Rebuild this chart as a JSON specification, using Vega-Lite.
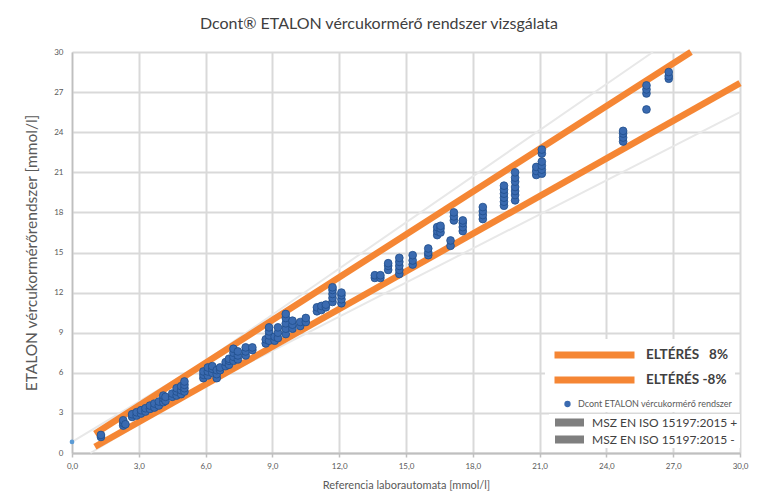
{
  "$schema": "https://vega.github.io/schema/vega-lite/v6.json",
  "width": 668,
  "height": 401,
  "autosize": {"type": "none"},
  "padding": {"left": 72, "top": 52, "right": 17, "bottom": 43},
  "background": "white",
  "title": {
    "text": "Dcont® ETALON vércukormérő rendszer vizsgálata",
    "font": "Lato",
    "fontSize": 16,
    "fontWeight": "normal",
    "color": "#404040",
    "anchor": "middle",
    "dx": -27,
    "offset": -6,
    "baseline": "alphabetic"
  },
  "datasets": {
    "iso": [
      {"series": "plus", "label": "MSZ EN ISO 15197:2015 +", "x": 0, "y": 0.83},
      {"series": "plus", "label": "MSZ EN ISO 15197:2015 +", "x": 5.55, "y": 6.38},
      {"series": "plus", "label": "MSZ EN ISO 15197:2015 +", "x": 26.09, "y": 30},
      {"series": "minus", "label": "MSZ EN ISO 15197:2015 -", "x": 0.83, "y": 0},
      {"series": "minus", "label": "MSZ EN ISO 15197:2015 -", "x": 5.55, "y": 4.72},
      {"series": "minus", "label": "MSZ EN ISO 15197:2015 -", "x": 30, "y": 25.5}
    ],
    "band": [
      {"series": "ELTÉRÉS\u00a0\u00a0\u00a08%", "x": 1.03, "y": 1.44},
      {"series": "ELTÉRÉS\u00a0\u00a0\u00a08%", "x": 27.8, "y": 30},
      {"series": "ELTÉRÉS -8%", "x": 1.03, "y": 0.47},
      {"series": "ELTÉRÉS -8%", "x": 30, "y": 27.67}
    ],
    "mk": [{"x": 0, "y": 0.83}],
    "pts": [
      {"x": 1.3, "y": 1.2}, {"x": 1.3, "y": 1.35},
      {"x": 2.3, "y": 2.05}, {"x": 2.3, "y": 2.25}, {"x": 2.3, "y": 2.45}, {"x": 2.4, "y": 2.15},
      {"x": 2.7, "y": 2.7}, {"x": 2.7, "y": 2.9}, {"x": 2.9, "y": 2.8}, {"x": 2.9, "y": 3.05},
      {"x": 3.1, "y": 2.95}, {"x": 3.1, "y": 3.2}, {"x": 3.3, "y": 3.1}, {"x": 3.3, "y": 3.35},
      {"x": 3.5, "y": 3.3}, {"x": 3.5, "y": 3.55}, {"x": 3.7, "y": 3.4}, {"x": 3.7, "y": 3.7},
      {"x": 3.9, "y": 3.55}, {"x": 3.9, "y": 3.85},
      {"x": 4.1, "y": 3.8}, {"x": 4.1, "y": 4.1}, {"x": 4.1, "y": 4.3}, {"x": 4.2, "y": 3.9}, {"x": 4.2, "y": 4.2},
      {"x": 4.5, "y": 4.2}, {"x": 4.5, "y": 4.45}, {"x": 4.7, "y": 4.3}, {"x": 4.7, "y": 4.6}, {"x": 4.7, "y": 4.85},
      {"x": 4.9, "y": 4.4}, {"x": 4.9, "y": 4.7}, {"x": 4.9, "y": 5.0},
      {"x": 5.05, "y": 4.6}, {"x": 5.05, "y": 4.85}, {"x": 5.05, "y": 5.1}, {"x": 5.05, "y": 5.35},
      {"x": 5.9, "y": 5.6}, {"x": 5.9, "y": 5.85}, {"x": 5.9, "y": 6.1},
      {"x": 6.1, "y": 5.8}, {"x": 6.1, "y": 6.1}, {"x": 6.1, "y": 6.4},
      {"x": 6.3, "y": 6.0}, {"x": 6.3, "y": 6.3}, {"x": 6.3, "y": 6.5},
      {"x": 6.5, "y": 5.6}, {"x": 6.5, "y": 5.9}, {"x": 6.5, "y": 6.2},
      {"x": 6.65, "y": 6.2}, {"x": 6.65, "y": 6.4},
      {"x": 6.9, "y": 6.5}, {"x": 6.9, "y": 6.8},
      {"x": 7.05, "y": 6.6}, {"x": 7.05, "y": 6.9}, {"x": 7.05, "y": 7.05},
      {"x": 7.25, "y": 6.9}, {"x": 7.25, "y": 7.2}, {"x": 7.25, "y": 7.5}, {"x": 7.25, "y": 7.8},
      {"x": 7.45, "y": 7.0}, {"x": 7.45, "y": 7.3}, {"x": 7.45, "y": 7.6},
      {"x": 7.8, "y": 7.3}, {"x": 7.8, "y": 7.6}, {"x": 7.8, "y": 7.9},
      {"x": 8.1, "y": 7.7}, {"x": 8.1, "y": 7.9},
      {"x": 8.7, "y": 8.2}, {"x": 8.7, "y": 8.5},
      {"x": 8.85, "y": 8.4}, {"x": 8.85, "y": 8.8}, {"x": 8.85, "y": 9.1}, {"x": 8.85, "y": 9.4},
      {"x": 9.1, "y": 8.4}, {"x": 9.1, "y": 8.7},
      {"x": 9.25, "y": 8.6}, {"x": 9.25, "y": 9.0}, {"x": 9.25, "y": 9.4},
      {"x": 9.6, "y": 8.9}, {"x": 9.6, "y": 9.3}, {"x": 9.6, "y": 9.7}, {"x": 9.6, "y": 10.1}, {"x": 9.6, "y": 10.4},
      {"x": 9.9, "y": 9.3}, {"x": 9.9, "y": 9.6}, {"x": 9.9, "y": 9.9},
      {"x": 10.25, "y": 9.5}, {"x": 10.25, "y": 9.8},
      {"x": 10.5, "y": 9.8}, {"x": 10.5, "y": 10.1},
      {"x": 11.0, "y": 10.6}, {"x": 11.0, "y": 10.9},
      {"x": 11.2, "y": 10.7}, {"x": 11.2, "y": 11.0},
      {"x": 11.4, "y": 10.9}, {"x": 11.4, "y": 11.1},
      {"x": 11.7, "y": 11.3}, {"x": 11.7, "y": 11.6}, {"x": 11.7, "y": 11.9}, {"x": 11.7, "y": 12.2}, {"x": 11.7, "y": 12.4},
      {"x": 12.1, "y": 11.2}, {"x": 12.1, "y": 11.5}, {"x": 12.1, "y": 11.8}, {"x": 12.1, "y": 12.0},
      {"x": 13.6, "y": 13.1}, {"x": 13.6, "y": 13.3},
      {"x": 13.85, "y": 13.1}, {"x": 13.85, "y": 13.3},
      {"x": 14.2, "y": 13.7}, {"x": 14.2, "y": 14.0}, {"x": 14.2, "y": 14.2},
      {"x": 14.7, "y": 13.4}, {"x": 14.7, "y": 13.7}, {"x": 14.7, "y": 14.0}, {"x": 14.7, "y": 14.3}, {"x": 14.7, "y": 14.6},
      {"x": 15.3, "y": 14.1}, {"x": 15.3, "y": 14.4}, {"x": 15.3, "y": 14.8},
      {"x": 16.0, "y": 14.8}, {"x": 16.0, "y": 15.0}, {"x": 16.0, "y": 15.3},
      {"x": 16.4, "y": 16.3}, {"x": 16.4, "y": 16.6}, {"x": 16.4, "y": 16.9},
      {"x": 16.55, "y": 16.5}, {"x": 16.55, "y": 16.8}, {"x": 16.55, "y": 17.0},
      {"x": 17.0, "y": 15.5}, {"x": 17.0, "y": 15.9},
      {"x": 17.15, "y": 17.4}, {"x": 17.15, "y": 17.7}, {"x": 17.15, "y": 18.0},
      {"x": 17.55, "y": 16.6}, {"x": 17.55, "y": 16.9}, {"x": 17.55, "y": 17.2}, {"x": 17.55, "y": 17.4},
      {"x": 18.45, "y": 17.5}, {"x": 18.45, "y": 17.8}, {"x": 18.45, "y": 18.1}, {"x": 18.45, "y": 18.4},
      {"x": 19.4, "y": 18.5}, {"x": 19.4, "y": 18.8}, {"x": 19.4, "y": 19.1}, {"x": 19.4, "y": 19.4}, {"x": 19.4, "y": 19.7}, {"x": 19.4, "y": 20.0},
      {"x": 19.9, "y": 18.9}, {"x": 19.9, "y": 19.3}, {"x": 19.9, "y": 19.6}, {"x": 19.9, "y": 19.9}, {"x": 19.9, "y": 20.3}, {"x": 19.9, "y": 20.6}, {"x": 19.9, "y": 21.0},
      {"x": 20.85, "y": 20.8}, {"x": 20.85, "y": 21.1}, {"x": 20.85, "y": 21.4},
      {"x": 21.1, "y": 20.9}, {"x": 21.1, "y": 21.2}, {"x": 21.1, "y": 21.5}, {"x": 21.1, "y": 21.8}, {"x": 21.1, "y": 22.4}, {"x": 21.1, "y": 22.7},
      {"x": 24.75, "y": 23.3}, {"x": 24.75, "y": 23.6}, {"x": 24.75, "y": 23.9}, {"x": 24.75, "y": 24.1},
      {"x": 25.8, "y": 25.7}, {"x": 25.8, "y": 26.9}, {"x": 25.8, "y": 27.2}, {"x": 25.8, "y": 27.5},
      {"x": 26.8, "y": 28.0}, {"x": 26.8, "y": 28.2}, {"x": 26.8, "y": 28.5}
    ]
  },
  "layer": [
    {
      "data": {"name": "iso"},
      "mark": {"type": "line", "strokeWidth": 2},
      "encoding": {
        "x": {
          "field": "x", "type": "quantitative",
          "scale": {"domain": [0, 30], "nice": false, "zero": false},
          "axis": {
            "values": [0, 3, 6, 9, 12, 15, 18, 21, 24, 27, 30],
            "labelExpr": "replace(format(datum.value, '.1f'), '.', ',')",
            "title": "Referencia laborautomata [mmol/l]",
            "grid": true, "gridColor": "#d9d9d9", "gridWidth": 2,
            "domainColor": "#bfbfbf", "domainWidth": 2,
            "tickColor": "#bfbfbf", "tickSize": 4, "tickWidth": 1.5,
            "labelFont": "Lato", "labelFontSize": 8, "labelColor": "#595959", "labelPadding": 5,
            "labelFlush": false,
            "titleFont": "Lato", "titleFontSize": 11, "titleFontWeight": "normal", "titleColor": "#595959", "titlePadding": 9
          }
        },
        "y": {
          "field": "y", "type": "quantitative",
          "scale": {"domain": [0, 30], "nice": false, "zero": false},
          "axis": {
            "values": [0, 3, 6, 9, 12, 15, 18, 21, 24, 27, 30],
            "format": "d",
            "title": "ETALON vércukormérőrendszer [mmol/l]",
            "grid": true, "gridColor": "#d9d9d9", "gridWidth": 2,
            "domainColor": "#bfbfbf", "domainWidth": 1.5,
            "ticks": false,
            "labelFont": "Lato", "labelFontSize": 8, "labelColor": "#595959", "labelPadding": 9,
            "labelFlush": false,
            "titleFont": "Lato", "titleFontSize": 15.5, "titleFontWeight": "normal", "titleColor": "#595959", "titlePadding": 14
          }
        },
        "stroke": {
          "field": "series", "type": "nominal",
          "scale": {"domain": ["plus", "minus"], "range": ["#e8e8e8", "#e8e8e8"]},
          "legend": null
        },
        "opacity": {
          "field": "label", "type": "nominal",
          "scale": {"domain": ["MSZ EN ISO 15197:2015 +", "MSZ EN ISO 15197:2015 -"], "range": [1, 1]},
          "legend": {
            "orient": "none", "legendX": 477, "legendY": 362, "title": null,
            "symbolType": "stroke", "symbolSize": 841, "symbolStrokeWidth": 8,
            "symbolStrokeColor": "#7f7f7f",
            "clipHeight": 13, "rowPadding": 4,
            "labelFont": "Lato", "labelFontSize": 12, "labelColor": "#404040", "labelOffset": 4, "labelLimit": 300,
            "padding": 2, "fillColor": "white"
          }
        }
      }
    },
    {
      "data": {"name": "band"},
      "mark": {"type": "line", "strokeWidth": 6.5, "strokeCap": "butt"},
      "encoding": {
        "x": {"field": "x", "type": "quantitative"},
        "y": {"field": "y", "type": "quantitative"},
        "color": {
          "field": "series", "type": "nominal",
          "scale": {"domain": ["ELTÉRÉS\u00a0\u00a0\u00a08%", "ELTÉRÉS -8%"], "range": ["#f58634", "#f58634"]},
          "legend": {
            "orient": "none", "legendX": 473, "legendY": 287, "title": null,
            "symbolType": "stroke", "symbolSize": 6400, "symbolStrokeWidth": 7,
            "clipHeight": 20, "rowPadding": 5,
            "labelFont": "Lato", "labelFontSize": 13.5, "labelFontWeight": "bold", "labelColor": "#404040",
            "labelOffset": 8, "labelLimit": 300,
            "padding": 6, "fillColor": "white"
          }
        }
      }
    },
    {
      "data": {"name": "pts"},
      "mark": {"type": "point", "filled": true, "fill": "#3a6ab0", "stroke": "#1f4e8c", "strokeWidth": 0.8, "size": 60, "opacity": 1},
      "encoding": {
        "x": {"field": "x", "type": "quantitative"},
        "y": {"field": "y", "type": "quantitative"},
        "shape": {
          "datum": "Dcont ETALON vércukormérő rendszer", "type": "nominal",
          "scale": {"range": ["circle"]},
          "legend": {
            "orient": "none", "legendX": 488, "legendY": 344, "title": null,
            "symbolSize": 40, "symbolFillColor": "#3a6ab0", "symbolStrokeColor": "#1f4e8c", "symbolStrokeWidth": 0.5,
            "clipHeight": 10,
            "labelFont": "Lato", "labelFontSize": 9, "labelColor": "#595959", "labelOffset": 6, "labelLimit": 300,
            "padding": 3, "fillColor": "white"
          }
        }
      }
    },
    {
      "data": {"name": "mk"},
      "mark": {"type": "point", "filled": true, "color": "#5b9bd5", "size": 22, "opacity": 1},
      "encoding": {
        "x": {"field": "x", "type": "quantitative"},
        "y": {"field": "y", "type": "quantitative"}
      }
    }
  ],
  "config": {
    "view": {"stroke": null},
    "font": "Lato"
  }
}
